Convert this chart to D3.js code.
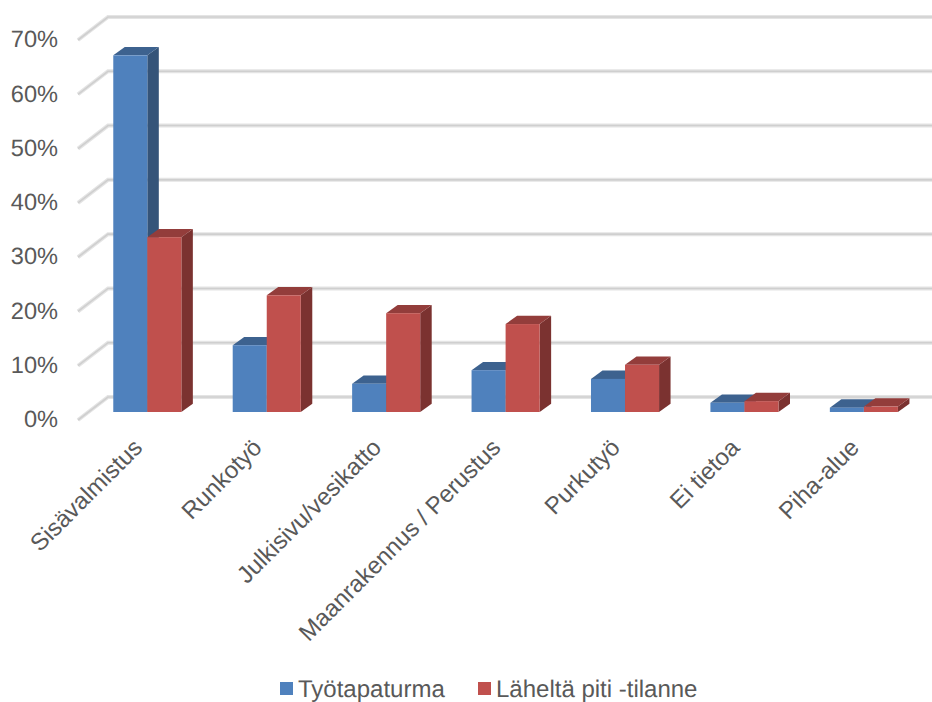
<!DOCTYPE html>
<html lang="fi">
<head>
<meta charset="utf-8">
<script src="https://cdn.jsdelivr.net/npm/d3@7/dist/d3.min.js"></script>
<style>
  html, body { margin: 0; padding: 0; background: #fff; }
  svg { display: block; }
  text { font-family: "Liberation Sans", Arial, sans-serif; fill: #595959; text-rendering: geometricPrecision; }
</style>
</head>
<body>
<svg id="chart" width="932" height="702"></svg>
<script>
const categories = ["Sisävalmistus", "Runkotyö", "Julkisivu/vesikatto", "Maanrakennus / Perustus", "Purkutyö", "Ei tietoa", "Piha-alue"];
const seriesNames = ["Työtapaturma", "Läheltä piti -tilanne"];
const tyotapaturma = [65.7, 12.3, 5.2, 7.7, 6.1, 1.7, 0.8];
const lahelta = [32.2, 21.5, 18.2, 16.2, 8.7, 2.0, 1.0];
const yTicks = [0, 10, 20, 30, 40, 50, 60, 70];

const frontColors = ["#4f81bd", "#c0504d"];
const sideColors = ["#355479", "#7b3230"];
const topColors = ["#3d628f", "#933d3b"];

const svg = d3.select("#chart");

// Oblique projection offset from the front plane to the back wall
const depthX = 11.5, depthY = 8.3;
const wallX = 30, wallY = 23;

const y = d3.scaleLinear().domain([0, 70]).range([412, 32]);
const x = d3.scaleBand().domain(categories).range([87.6, 923.6]).paddingInner(0.43).paddingOuter(0.215);
const xSeries = d3.scaleBand().domain(seriesNames).range([0, x.bandwidth()]);

// Floor-to-wall gridlines: a slanted segment on the side wall, then the back wall.
// Each line has a pale halo under a darker core, giving the soft raised look.
const gridFrontX = 78;
const gridY = v => y(v) + 8;
const gridPath = v => d3.line()([
  [gridFrontX, gridY(v)],
  [gridFrontX + wallX, gridY(v) - wallY],
  [932, gridY(v) - wallY]
]);
const grid = svg.append("g").attr("fill", "none");
grid.selectAll("path.halo").data(yTicks).join("path")
  .attr("class", "halo")
  .attr("stroke", "#e4e4e4")
  .attr("stroke-width", 4)
  .attr("d", gridPath);
grid.selectAll("path.core").data(yTicks).join("path")
  .attr("class", "core")
  .attr("stroke", "#cfcfcf")
  .attr("stroke-width", 1.6)
  .attr("d", gridPath);

// Value axis labels
svg.append("g").selectAll("text").data(yTicks).join("text")
  .attr("x", 58)
  .attr("y", v => y(v) + 7)
  .attr("dy", "0.35em")
  .attr("text-anchor", "end")
  .attr("font-size", 23.6)
  .text(v => d3.format("d")(v) + "%");

// One 3D column: side face, top face, front face
const seriesData = [tyotapaturma, lahelta];
const bars = svg.append("g");
categories.forEach((cat, ci) => {
  seriesNames.forEach((name, si) => {
    const left = x(cat) + xSeries(name);
    const w = xSeries.bandwidth();
    const top = y(seriesData[si][ci]);
    const base = y(0);
    const g = bars.append("g");
    g.append("path").attr("fill", sideColors[si])
      .attr("d", d3.line()([[left + w, top], [left + w + depthX, top - depthY], [left + w + depthX, base - depthY], [left + w, base]]) + "Z");
    g.append("path").attr("fill", topColors[si])
      .attr("d", d3.line()([[left, top], [left + depthX, top - depthY], [left + w + depthX, top - depthY], [left + w, top]]) + "Z");
    g.append("rect").attr("fill", frontColors[si])
      .attr("x", left).attr("y", top).attr("width", w).attr("height", base - top);
  });
});

// Rotated category labels
svg.append("g").selectAll("text").data(categories).join("text")
  .attr("text-anchor", "end")
  .attr("font-size", 24)
  .attr("transform", d => `translate(${x(d) + x.bandwidth() / 2 - 3.5},${449}) rotate(-45)`)
  .text(d => d);

// Legend
const legendItems = [
  { name: seriesNames[0], sx: 280, tx: 298 },
  { name: seriesNames[1], sx: 478, tx: 496 }
];
const legend = svg.append("g");
legendItems.forEach((it, i) => {
  legend.append("rect").attr("x", it.sx).attr("y", 682).attr("width", 13).attr("height", 13).attr("fill", frontColors[i]);
  legend.append("text").attr("x", it.tx).attr("y", 696.5).attr("font-size", 24).text(it.name);
});
</script>
</body>
</html>
